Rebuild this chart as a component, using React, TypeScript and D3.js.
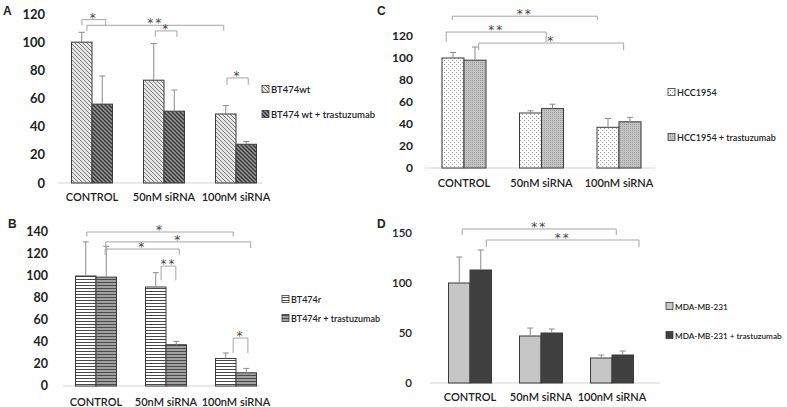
import React from "react";
import * as d3 from "d3";

const categories = ["CONTROL", "50nM siRNA", "100nM siRNA"];

// Panel A
const aNames = ["BT474wt", "BT474 wt + trastuzumab"];
const aValues1 = [100, 73, 49];
const aErr1 = [7, 26, 6];
const aValues2 = [56, 51, 27.5];
const aErr2 = [20, 15, 2];
const aTicks = [0, 20, 40, 60, 80, 100, 120];
const aBrackets = [
  { x1: -0.14, x2: 0.19, top: 116, leg: 112, label: "*" },
  { x1: -0.07, x2: 1.83, top: 112, leg: 108, label: "**" },
  { x1: 0.88, x2: 1.18, top: 108, leg: 103.7, label: "*" },
  { x1: 1.875, x2: 2.17, top: 74.6, leg: 69.6, label: "*" },
];

// Panel B
const bNames = ["BT474r", "BT474r + trastuzumab"];
const bValues1 = [100, 90, 25];
const bErr1 = [31, 13, 5];
const bValues2 = [99, 37.5, 12];
const bErr2 = [28, 3, 4];
const bTicks = [0, 20, 40, 60, 80, 100, 120, 140];
const bBrackets = [
  { x1: -0.13, x2: 1.96, top: 140, leg: 136, label: "*" },
  { x1: 0.14, x2: 2.21, top: 131, leg: 125.5, label: "*" },
  { x1: 0.13, x2: 1.19, top: 124.5, leg: 119, label: "*" },
  { x1: 0.93, x2: 1.14, top: 109, leg: 96, label: "**" },
  { x1: 1.96, x2: 2.17, top: 43.6, leg: 30, label: "*" },
];

// Panel C
const cNames = ["HCC1954", "HCC1954 + trastuzumab"];
const cValues1 = [100, 50, 37];
const cErr1 = [5, 2, 8];
const cValues2 = [98, 54, 42];
const cErr2 = [12, 4, 4];
const cTicks = [0, 20, 40, 60, 80, 100, 120];
const cBrackets = [
  { x1: -0.15, x2: 1.72, top: 138, leg: 134.5, label: "**" },
  { x1: -0.23, x2: 1.06, top: 123.6, leg: 114.5, label: "**" },
  { x1: 0.19, x2: 2.06, top: 113.6, leg: 107, label: "*" },
];

// Panel D
const dNames = ["MDA-MB-231", "MDA-MB-231 + trastuzumab"];
const dValues1 = [100, 47, 25];
const dErr1 = [26, 8, 3];
const dValues2 = [113, 50, 28];
const dErr2 = [20, 4, 4];
const dTicks = [0, 50, 100, 150];
const dBrackets = [
  { x1: -0.11, x2: 2.06, top: 154, leg: 148, label: "**" },
  { x1: 0.23, x2: 2.38, top: 143, leg: 136, label: "**" },
];

const FONT = "Lato, 'Open Sans', 'DejaVu Sans', sans-serif";

type Bracket = { x1: number; x2: number; top: number; leg: number; label: string };

type PanelCfg = {
  letter: string;
  letterX: number;
  letterY: number;
  names: string[];
  v1: number[];
  e1: number[];
  v2: number[];
  e2: number[];
  ticks: number[];
  brackets: Bracket[];
  cx: [number, number];
  barW: number;
  yDom: [number, number];
  yRange: [number, number];
  axisX: [number, number];
  tickX: number;
  tickSize: number;
  tickWeight: number;
  catY: number;
  legendX: number;
  legendY: [number, number];
  legendSize: number;
  fills: [string, string];
};

function Panel({ c }: { c: PanelCfg }) {
  const x = d3.scaleLinear().domain([0, 2]).range(c.cx);
  const y = d3.scaleLinear().domain(c.yDom).range(c.yRange);
  const series = [
    { v: c.v1, e: c.e1, fill: c.fills[0], off: -1 },
    { v: c.v2, e: c.e2, fill: c.fills[1], off: 0 },
  ];
  return (
    <g>
      <text x={c.letterX} y={c.letterY} fontFamily="'Liberation Sans', Arial, sans-serif" fontWeight={700} fontSize={12} fill="#222">
        {c.letter}
      </text>
      {c.ticks.map((t) => (
        <text key={t} x={c.tickX} y={y(t) + c.tickSize * 0.35} textAnchor="end" fontFamily={FONT} fontWeight={c.tickWeight} fontSize={c.tickSize} fill="#222">
          {t}
        </text>
      ))}
      <line x1={c.axisX[0]} x2={c.axisX[1]} y1={y(0)} y2={y(0)} stroke="#d4d4d4" strokeWidth={1.2} />
      {series.map((s, si) =>
        s.v.map((v, i) => {
          const bx = x(i) + s.off * c.barW;
          return (
            <g key={si + "-" + i}>
              <rect x={bx} y={y(v)} width={c.barW} height={y(0) - y(v)} fill={s.fill} stroke="#3a3a3a" strokeWidth={1} />
              <line x1={bx + c.barW / 2} x2={bx + c.barW / 2} y1={y(v)} y2={y(v + s.e[i])} stroke="#8c8c8c" strokeWidth={1} />
              <line x1={bx + c.barW / 2 - 3} x2={bx + c.barW / 2 + 3} y1={y(v + s.e[i])} y2={y(v + s.e[i])} stroke="#8c8c8c" strokeWidth={1} />
            </g>
          );
        })
      )}
      {categories.map((cat, i) => (
        <text key={cat} x={x(i)} y={c.catY} textAnchor="middle" fontFamily={FONT} fontSize={11} fontWeight={600} fill="#222">
          {cat}
        </text>
      ))}
      {c.brackets.map((b, i) => {
        const X1 = x(b.x1);
        const X2 = x(b.x2);
        const T = y(b.top);
        const L = y(b.leg);
        return (
          <g key={i}>
            <path d={`M${X1},${L}V${T}H${X2}V${L}`} fill="none" stroke="#a5a5a5" strokeWidth={1} />
            <text x={(X1 + X2) / 2} y={T + 2} textAnchor="middle" fontFamily="'DejaVu Sans', sans-serif" fontSize={12} fill="#444" letterSpacing={2}>
              {b.label}
            </text>
          </g>
        );
      })}
      {c.names.map((n, i) => (
        <g key={n}>
          <rect x={c.legendX} y={c.legendY[i] - 3.5} width={7} height={7} fill={c.fills[i]} stroke="#3a3a3a" strokeWidth={0.8} />
          <text x={c.legendX + 9} y={c.legendY[i] + 3.5} fontFamily={FONT} fontWeight={600} fontSize={c.legendSize} fill="#222">
            {n}
          </text>
        </g>
      ))}
    </g>
  );
}

const panels: PanelCfg[] = [
  {
    letter: "A", letterX: 3, letterY: 15, names: aNames,
    v1: aValues1, e1: aErr1, v2: aValues2, e2: aErr2, ticks: aTicks, brackets: aBrackets,
    cx: [92, 236], barW: 20.5, yDom: [0, 120], yRange: [183, 14], axisX: [58, 262],
    tickX: 45, tickSize: 13, tickWeight: 700, catY: 201, legendX: 262, legendY: [89, 114], legendSize: 9.5,
    fills: ["url(#patA1)", "url(#patA2)"],
  },
  {
    letter: "B", letterX: 8, letterY: 228, names: bNames,
    v1: bValues1, e1: bErr1, v2: bValues2, e2: bErr2, ticks: bTicks, brackets: bBrackets,
    cx: [96, 236], barW: 20.5, yDom: [0, 140], yRange: [386, 232], axisX: [63, 260],
    tickX: 48, tickSize: 12.5, tickWeight: 700, catY: 406, legendX: 282, legendY: [299, 318], legendSize: 9,
    fills: ["url(#patB1)", "url(#patB2)"],
  },
  {
    letter: "C", letterX: 377, letterY: 15, names: cNames,
    v1: cValues1, e1: cErr1, v2: cValues2, e2: cErr2, ticks: cTicks, brackets: cBrackets,
    cx: [464, 619], barW: 22, yDom: [0, 120], yRange: [168, 36], axisX: [425, 655],
    tickX: 413, tickSize: 12, tickWeight: 700, catY: 187, legendX: 668, legendY: [92, 137], legendSize: 9,
    fills: ["url(#patC1)", "url(#patC2)"],
  },
  {
    letter: "D", letterX: 377, letterY: 228, names: dNames,
    v1: dValues1, e1: dErr1, v2: dValues2, e2: dErr2, ticks: dTicks, brackets: dBrackets,
    cx: [470, 612], barW: 21.5, yDom: [0, 150], yRange: [383, 233], axisX: [430, 660],
    tickX: 412, tickSize: 11.5, tickWeight: 600, catY: 401, legendX: 666, legendY: [306, 335], legendSize: 8.2,
    fills: ["#c6c6c6", "#404040"],
  },
];

export default function App() {
  return (
    <svg width={787} height={407} style={{ position: "absolute", left: 0, top: 0, background: "#fff" }}>
      <defs>
        <pattern id="patA1" patternUnits="userSpaceOnUse" width={4} height={4}>
          <rect width={4} height={4} fill="#e6e6e6" />
          <path d="M-1,-1L5,5M-1,3L1,5M3,-1L5,1" stroke="#7a7a7a" strokeWidth={1} />
        </pattern>
        <pattern id="patA2" patternUnits="userSpaceOnUse" width={4} height={4}>
          <rect width={4} height={4} fill="#9a9a9a" />
          <path d="M-1,-1L5,5M-1,3L1,5M3,-1L5,1" stroke="#2e2e2e" strokeWidth={1.3} />
        </pattern>
        <pattern id="patB1" patternUnits="userSpaceOnUse" width={4} height={3}>
          <rect width={4} height={3} fill="#ffffff" />
          <rect y={0} width={4} height={1} fill="#4a4a4a" />
        </pattern>
        <pattern id="patB2" patternUnits="userSpaceOnUse" width={4} height={3}>
          <rect width={4} height={3} fill="#a0a0a0" />
          <rect y={0} width={4} height={1} fill="#4a4a4a" />
        </pattern>
        <pattern id="patC1" patternUnits="userSpaceOnUse" width={4} height={4}>
          <rect width={4} height={4} fill="#ffffff" />
          <rect x={0} y={0} width={1} height={1} fill="#9a9a9a" />
          <rect x={2} y={2} width={1} height={1} fill="#9a9a9a" />
        </pattern>
        <pattern id="patC2" patternUnits="userSpaceOnUse" width={2} height={2}>
          <rect width={2} height={2} fill="#c4c4c4" />
          <rect x={0} y={0} width={1} height={1} fill="#9e9e9e" />
        </pattern>
      </defs>
      {panels.map((p) => (
        <Panel key={p.letter} c={p} />
      ))}
    </svg>
  );
}
